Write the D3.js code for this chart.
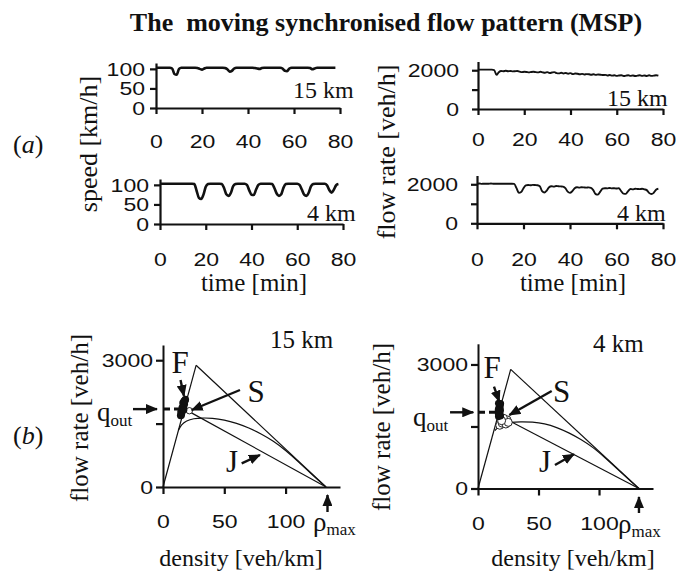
<!DOCTYPE html>
<html><head><meta charset="utf-8">
<script src="https://cdn.jsdelivr.net/npm/d3@7/dist/d3.min.js"></script>
<style>body{margin:0;background:#fff}svg{display:block}</style>
</head><body>
<svg id="chart" width="676" height="578"></svg>
<script>
// ---------------- data ----------------
const timeMin = d3.range(0, 79); // sampling grid [min]
const speed15km = [103,103,103,103,103,103,103,101,87,85,100,103,103,103,103,103,103,103,102,100,98,101,103,103,103,103,103,103,103,103,102,99,93,95,101,103,103,103,103,103,103,103,103,102,101,100,102,103,103,103,103,103,103,103,103,101,95,94,101,103,103,103,103,103,103,103,103,102,99,101,103,103,103,103,103,103,103,103,103];
const speed4km = [103,103,103,103,103,103,103,103,103,103,103,103,103,103,103,102,85,67,64,75,95,102,103,103,103,103,103,102,92,76,72,80,97,102,103,103,103,103,100,86,75,74,88,100,103,103,103,103,103,102,92,78,72,76,93,102,103,103,103,103,103,100,88,75,72,80,96,102,103,103,103,103,103,99,87,80,88,99,102];
const flow15km = [2030,2030,2030,2030,2030,2030,2030,2010,1760,1900,1960,1950,1970,1950,1960,1940,1950,1960,1930,1900,1920,1910,1890,1910,1920,1900,1890,1920,1890,1870,1900,1860,1880,1900,1850,1840,1870,1830,1860,1820,1850,1800,1830,1820,1790,1810,1780,1800,1790,1770,1790,1760,1780,1770,1750,1760,1730,1750,1720,1740,1710,1730,1740,1700,1720,1740,1710,1730,1700,1720,1740,1710,1730,1700,1740,1710,1720,1740,1720];
const flow4km = [2030,2040,2020,2030,2030,2030,2040,2030,2030,2030,2030,2030,2030,2030,2030,2030,2020,1800,1560,1600,1800,1940,1960,1950,1970,1960,1950,1900,1650,1580,1680,1850,1900,1880,1910,1900,1890,1880,1800,1620,1560,1650,1800,1850,1830,1850,1840,1830,1840,1820,1700,1500,1470,1620,1780,1800,1790,1810,1790,1800,1780,1800,1650,1520,1510,1650,1760,1740,1770,1760,1750,1770,1740,1700,1560,1500,1560,1720,1770];

const timeTicks = [0, 20, 40, 60, 80];
const speedTicks = [0, 50, 100];
const speedTickLabels = ["0", "50", "100"];
const flowTicks = [0, 1000, 2000];
const flowTickLabels = ["0", "", "2000"];

const densityTicks = [0, 50, 100];
const fdFlowTicks = [0, 1500, 3000];
const fdFlowTickLabels = ["0", "", "3000"];

const rhoMax = 133;
const qOut = 1843;
const freeLine = [[0, 0], [27, 2880]];
const upperLine = [[27, 2880], [rhoMax, 0]];
const jLine15km = [[21, 1790], [rhoMax, 0]];
const jLine4km = [[25, 1650], [rhoMax, 0]];
const syncCurve15km = [[12.5,1340],[15,1480],[19,1570],[25,1620],[32,1635],[40,1630],[50,1590],[60,1510],[70,1400],[80,1260],[90,1090],[100,870],[110,610],[120,335],[133,0]];
const syncCurve4km = [[14,1400],[17,1500],[21,1570],[27,1605],[35,1615],[45,1610],[55,1570],[65,1480],[75,1350],[85,1190],[95,1000],[105,745],[115,475],[125,205],[133,0]];
const fPoints15km = [[14.3,1690],[14.8,1740],[15.3,1790],[15.8,1840],[16.3,1890],[16.8,1940],[17.3,1990],[17.8,2030],[18.3,2075],[15.0,1700],[15.5,1760],[16.0,1820],[16.8,1900],[17.5,1960],[18.0,2050],[14.6,1780],[16.2,1990],[15.6,1880],[17.2,2040],[17.0,1830]];
const sPoints15km = [[21.5,1805]];
const fPoints4km = [[17,1740],[17.5,1790],[18,1840],[18.5,1890],[17.2,1940],[17.8,1990],[18.4,2040],[17.0,2060],[18.6,1760],[17.4,1860],[18.2,1960],[16.8,1900],[18.6,2055],[16.9,1800]];
const sPoints4km = [[18,1530],[20,1580],[22,1620],[24,1660],[23,1560],[21,1700],[25,1600],[19.5,1640]];

// ---------------- helpers ----------------
const svg = d3.select("#chart");
const SERIF = "'Liberation Serif','Times New Roman',serif";
const SANS = "'Liberation Sans',Arial,sans-serif";
const STRETCH = 1.28;

const defs = svg.append("defs");
defs.append("marker").attr("id", "ah").attr("viewBox", "0 0 12 10")
  .attr("refX", 11).attr("refY", 5).attr("markerWidth", 12).attr("markerHeight", 10)
  .attr("markerUnits", "userSpaceOnUse").attr("orient", "auto")
  .append("path").attr("d", "M0,0 L12,5 L0,10 z").attr("fill", "#111");

function styleAxis(g, gap, labelFn, vertical) {
  g.select(".domain").attr("stroke", "#111").attr("stroke-width", 2.2);
  g.selectAll(".tick line").attr("stroke", "#111").attr("stroke-width", 2.2);
  g.selectAll(".tick text")
    .attr("font-family", SANS).attr("font-size", 18).attr("fill", "#111")
    .text(labelFn);
  if (vertical) {
    g.selectAll(".tick text").attr("x", -gap / STRETCH).attr("dy", "0.35em")
      .attr("transform", `scale(${STRETCH},1)`);
  } else {
    g.selectAll(".tick text").attr("y", gap).attr("dy", "0")
      .attr("transform", `scale(${STRETCH},1)`);
  }
  g.attr("font-family", null).attr("font-size", null);
}

// ---------------- time series panels ----------------
function tsPanel(cfg) {
  const x = d3.scaleLinear().domain([0, 80]).range(cfg.xr);
  const y = d3.scaleLinear().domain(cfg.yd).range(cfg.yr);
  const gx = svg.append("g").attr("transform", `translate(0,${cfg.yr[0]})`)
    .call(d3.axisBottom(x).tickValues(timeTicks).tickSize(6).tickSizeOuter(0));
  styleAxis(gx, cfg.xLabelGap, (d) => d3.format("d")(d), false);
  const gy = svg.append("g").attr("transform", `translate(${cfg.xr[0]},0)`)
    .call(d3.axisLeft(y).tickValues(cfg.yTicks).tickSize(6).tickSizeOuter(0));
  styleAxis(gy, cfg.yLabelGap, (d, i) => cfg.yLabels[i], true);
  svg.append("path").datum(cfg.values)
    .attr("fill", "none").attr("stroke", "#111").attr("stroke-width", cfg.lw)
    .attr("stroke-linejoin", "round")
    .attr("d", d3.line().x((d, i) => x(timeMin[i])).y((d) => y(d)).curve(d3.curveMonotoneX));
  svg.append("text").attr("x", x(cfg.label[0])).attr("y", y(cfg.label[1]))
    .attr("font-family", SERIF).attr("font-size", 24).attr("fill", "#111").text(cfg.label[2]);
}

tsPanel({xr: [156, 340], yr: [108, 63], yd: [0, 115], yTicks: speedTicks, yLabels: speedTickLabels,
  values: speed15km, lw: 2.6, xLabelGap: 40.5, yLabelGap: 11, label: [59.6, 25.6, "15 km"]});
tsPanel({xr: [160, 343], yr: [224, 179], yd: [0, 115], yTicks: speedTicks, yLabels: speedTickLabels,
  values: speed4km, lw: 2.6, xLabelGap: 42.5, yLabelGap: 11, label: [64.3, 7.7, "4 km"]});
tsPanel({xr: [478, 663], yr: [109, 61.5], yd: [0, 2450], yTicks: flowTicks, yLabels: flowTickLabels,
  values: flow15km, lw: 1.9, xLabelGap: 37.5, yLabelGap: 19, label: [55.8, 155, "15 km"]});
tsPanel({xr: [477, 663], yr: [223.3, 175.5], yd: [0, 2450], yTicks: flowTicks, yLabels: flowTickLabels,
  values: flow4km, lw: 1.9, xLabelGap: 43, yLabelGap: 19, label: [60.2, 118, "4 km"]});

// ---------------- fundamental diagram panels ----------------
function fdPanel(cfg) {
  const x = d3.scaleLinear().domain(cfg.xd).range(cfg.xr);
  const y = d3.scaleLinear().domain(cfg.yd).range(cfg.yr);
  const gx = svg.append("g").attr("transform", `translate(0,${cfg.yr[0]})`)
    .call(d3.axisBottom(x).tickValues(densityTicks).tickSize(7).tickSizeOuter(0));
  styleAxis(gx, 41.5, (d) => d3.format("d")(d), false);
  const gy = svg.append("g").attr("transform", `translate(${cfg.xr[0]},0)`)
    .call(d3.axisLeft(y).tickValues(fdFlowTicks).tickSize(7).tickSizeOuter(0));
  styleAxis(gy, 10, (d, i) => fdFlowTickLabels[i], true);
  gx.select(".domain").attr("stroke-width", 2);
  gy.select(".domain").attr("stroke-width", 2);

  const line = d3.line().x((d) => x(d[0])).y((d) => y(d[1]));
  [freeLine, upperLine, cfg.jLine].forEach((l) =>
    svg.append("path").datum(l).attr("fill", "none").attr("stroke", "#111").attr("stroke-width", 1.2).attr("d", line));
  svg.append("path").datum(cfg.sync).attr("fill", "none").attr("stroke", "#111").attr("stroke-width", 1.2)
    .attr("d", line.curve(d3.curveBasis));

  // q_out dashed
  svg.append("line").attr("x1", x(0)).attr("x2", x(cfg.dashEnd)).attr("y1", y(qOut)).attr("y2", y(qOut))
    .attr("stroke", "#111").attr("stroke-width", 3).attr("stroke-dasharray", "7,4");

  svg.append("g").selectAll("circle").data(cfg.sPts).join("circle")
    .attr("cx", (d) => x(d[0])).attr("cy", (d) => y(d[1])).attr("r", cfg.sR)
    .attr("fill", "#fff").attr("stroke", "#111").attr("stroke-width", 0.9);
  svg.append("g").selectAll("circle").data(cfg.fPts).join("circle")
    .attr("cx", (d) => x(d[0])).attr("cy", (d) => y(d[1])).attr("r", 3.6).attr("fill", "#111");

  // arrows
  cfg.arrows.forEach((a) =>
    svg.append("line").attr("x1", x(a[0])).attr("y1", y(a[1])).attr("x2", x(a[2])).attr("y2", y(a[3]))
      .attr("stroke", "#111").attr("stroke-width", 2.4).attr("marker-end", "url(#ah)"));

  // letter labels
  cfg.letters.forEach((l) =>
    svg.append("text").attr("x", x(l[0])).attr("y", y(l[1])).attr("text-anchor", "middle")
      .attr("font-family", SERIF).attr("font-size", 31).attr("fill", "#111").text(l[2]));

  const qo = svg.append("text").attr("x", x(cfg.qLabel[0])).attr("y", y(cfg.qLabel[1]))
    .attr("font-family", SERIF).attr("font-size", 27).attr("fill", "#111");
  qo.append("tspan").text("q");
  qo.append("tspan").attr("font-size", 17).attr("dy", 5).text("out");

  const rm = svg.append("text").attr("x", x(cfg.rhoLabel[0])).attr("y", y(cfg.rhoLabel[1]))
    .attr("font-family", SERIF).attr("font-size", 27).attr("fill", "#111");
  rm.append("tspan").text("ρ");
  rm.append("tspan").attr("font-size", 17).attr("dy", 4).text("max");

  svg.append("text").attr("x", x(cfg.kmLabel[0])).attr("y", y(cfg.kmLabel[1]))
    .attr("font-family", SERIF).attr("font-size", 25).attr("fill", "#111").text(cfg.kmLabel[2]);
}

fdPanel({xd: [0, 144.4], xr: [163, 340], yd: [0, 3360], yr: [487, 345],
  jLine: jLine15km, sync: syncCurve15km, fPts: fPoints15km, sPts: sPoints15km, sR: 3.2, dashEnd: 17,
  arrows: [[14.3, 2532, 17.1, 2153], [62.8, 2295, 23.4, 1822], [64.2, 561, 79.1, 757],
           [-24.5, qOut, -4.9, qOut], [134.2, -592, 134.2, -189]],
  letters: [[13.9, 2697, "F"], [75.9, 2018, "S"], [56.3, 355, "J"]],
  qLabel: [-53.8, 1562], rhoLabel: [122.4, -1041], kmLabel: [87.3, 3289, "15 km"]});

fdPanel({xd: [0, 144.6], xr: [478, 653], yd: [0, 3500], yr: [488.5, 343.8],
  jLine: jLine4km, sync: syncCurve4km, fPts: fPoints4km, sPts: sPoints4km, sR: 4, dashEnd: 17,
  arrows: [[13.2, 2462, 17.6, 2100], [60.9, 2358, 25.9, 1778], [63.6, 568, 79.3, 827],
           [-23.1, qOut, -3.9, qOut], [133, -593, 133, -206]],
  letters: [[11.6, 2673, "F"], [69.2, 2100, "S"], [55.4, 399, "J"]],
  qLabel: [-53.7, 1512], rhoLabel: [115.7, -1076], kmLabel: [95, 3302, "4 km"]});

// ---------------- titles & axis titles ----------------
function txt(x, y, s, size, opts = {}) {
  const t = svg.append("text").attr("x", x).attr("y", y).attr("font-family", SERIF)
    .attr("font-size", size).attr("fill", "#111").attr("text-anchor", opts.anchor || "middle");
  if (opts.bold) t.attr("font-weight", "bold");
  if (opts.rotate) t.attr("transform", `rotate(-90,${x},${y})`);
  t.text(s);
  return t;
}
txt(386, 31, "The  moving synchronised flow pattern (MSP)", 26, {bold: true}).attr("xml:space", "preserve").style("white-space", "pre");

const ta = svg.append("text").attr("x", 13).attr("y", 153).attr("font-family", SERIF).attr("font-size", 26).attr("fill", "#111");
ta.append("tspan").text("(");
ta.append("tspan").attr("font-style", "italic").text("a");
ta.append("tspan").text(")");
const tb = svg.append("text").attr("x", 13).attr("y", 444).attr("font-family", SERIF).attr("font-size", 26).attr("fill", "#111");
tb.append("tspan").text("(");
tb.append("tspan").attr("font-style", "italic").text("b");
tb.append("tspan").text(")");

txt(97, 144, "speed [km/h]", 26, {rotate: true});
txt(395, 152, "flow rate [veh/h]", 26, {rotate: true});
txt(254, 291, "time [min]", 25);
txt(573, 291, "time [min]", 25);
txt(88, 418, "flow rate [veh/h]", 25, {rotate: true});
txt(390, 427, "flow rate [veh/h]", 25, {rotate: true});
txt(241, 566, "density [veh/km]", 24);
txt(573, 566, "density [veh/km]", 24);
</script>
</body></html>
